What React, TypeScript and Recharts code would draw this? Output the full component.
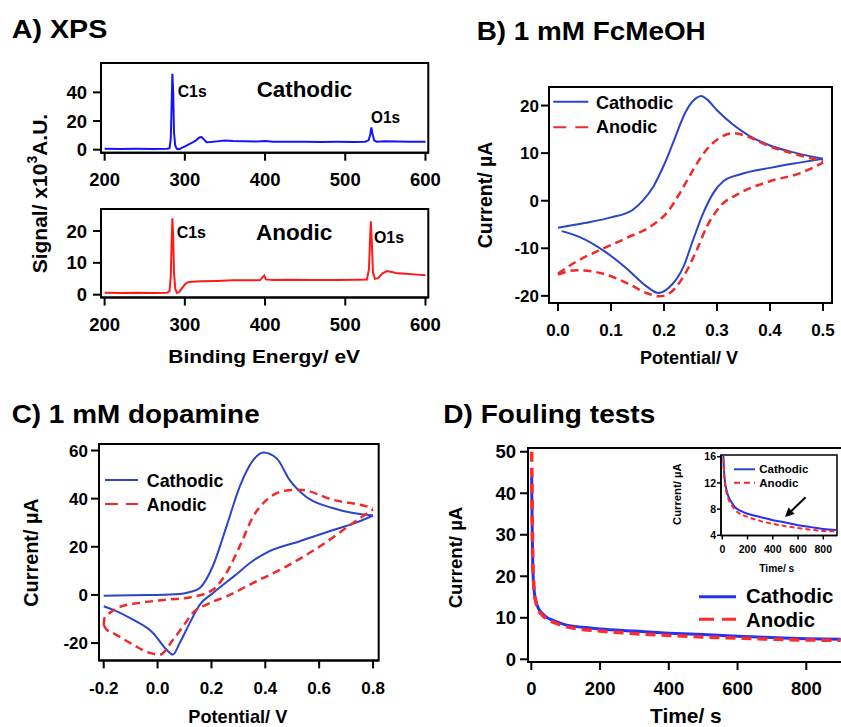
import React from 'react'
import { LineChart, Line, XAxis, YAxis, ReferenceArea, ReferenceLine } from 'recharts'

const FONT = '"Liberation Sans", Arial, Helvetica, sans-serif'
const PAD_T = 14
const PAD_R = 24

// A) XPS survey, binding energy (eV) vs signal (x10^3 A.U.)
const xpsCathodic = [
  [200, 0.6], [220, 0.5], [240, 0.6], [260, 0.5], [278, 0.6], [281, 1], [282.5, 8], [283.5, 30],
  [284.5, 53], [285.5, 40], [286.5, 12], [288, 3], [290, 0.6], [293, 0.4], [297, 1.5], [302, 2.8],
  [308, 4.5], [314, 6.5], [318, 8.5], [321, 8.8], [324, 7], [327, 5.2], [332, 5.3], [340, 5.8],
  [350, 6.4], [360, 6.0], [375, 5.8], [390, 5.7], [400, 6.0], [410, 5.6], [430, 5.5], [450, 5.6],
  [470, 5.4], [490, 5.5], [510, 5.4], [525, 5.6], [529, 6.5], [531, 10], [532.5, 15.5], [534, 11],
  [536, 6.5], [539, 5.6], [550, 5.9], [565, 5.7], [580, 5.6], [600, 5.5],
]
const xpsAnodic = [
  [200, 0.6], [220, 0.5], [240, 0.6], [260, 0.5], [278, 0.6], [281, 1.2], [282.5, 6], [283.5, 16],
  [284.5, 24], [285.5, 18], [286.5, 7], [288, 2], [290, 0.6], [293, 0.8], [297, 2.2], [301, 3.5],
  [305, 4], [320, 4.2], [340, 4.3], [360, 4.5], [380, 4.5], [394, 4.6], [397, 5.5], [399, 6],
  [401, 4.8], [410, 4.6], [430, 4.7], [460, 4.6], [490, 4.6], [515, 4.7], [527, 4.8], [529.5, 8],
  [531, 18], [532, 23], [533, 17], [534.5, 7], [537, 5], [541, 5.2], [546, 6.6], [552, 7.4],
  [558, 7.1], [565, 6.7], [575, 6.6], [590, 6.3], [600, 6.1],
]
const xpsTicks = [200, 300, 400, 500, 600]
const xpsTopTicks = [0, 20, 40]
const xpsBottomTicks = [0, 10, 20]

// B) 1 mM FcMeOH, potential (V) vs current (uA); each scan split in two branches
const fcCathodicUpper = [
  [0.0, -5.7], [0.05, -4.7], [0.1, -3.5], [0.14, -2.0], [0.16, 0.0], [0.18, 3.0], [0.2, 7.5],
  [0.22, 13.0], [0.24, 18.5], [0.26, 21.5], [0.27, 22.0], [0.28, 21.4], [0.3, 19.0], [0.33, 16.0],
  [0.36, 13.7], [0.4, 11.6], [0.45, 10.0], [0.5, 8.8],
]
const fcCathodicLower = [
  [0.007, -6.4], [0.04, -7.6], [0.09, -10.8], [0.13, -14.3], [0.167, -18.0], [0.19, -19.4],
  [0.21, -18.2], [0.237, -13.8], [0.255, -8.2], [0.274, -2.6], [0.293, 1.6], [0.312, 4.1],
  [0.343, 5.5], [0.4, 6.9], [0.45, 7.9], [0.5, 8.8],
]
const fcAnodicUpper = [
  [0.0, -15.3], [0.03, -13.1], [0.08, -10.3], [0.13, -7.8], [0.18, -5.0], [0.205, -2.6], [0.23, 1.6],
  [0.255, 6.5], [0.28, 10.7], [0.305, 13.2], [0.33, 14.2], [0.355, 13.6], [0.4, 11.4], [0.45, 9.7],
  [0.5, 8.3],
]
const fcAnodicLower = [
  [0.0, -15.5], [0.035, -14.6], [0.08, -15.2], [0.13, -17.3], [0.167, -19.4], [0.192, -20.1],
  [0.211, -19.4], [0.237, -15.9], [0.262, -10.3], [0.281, -5.4], [0.306, -1.2], [0.343, 1.6],
  [0.4, 4.1], [0.457, 5.8], [0.5, 8.0],
]
const fcXTicks = [0, 0.1, 0.2, 0.3, 0.4, 0.5]
const fcYTicks = [-20, -10, 0, 10, 20]

// C) 1 mM dopamine
const daCathodicUpper = [
  [-0.2, -0.3], [-0.1, -0.1], [0.0, 0.0], [0.083, 0.4], [0.12, 1.2], [0.157, 2.9], [0.205, 11.9],
  [0.256, 28.5], [0.305, 45], [0.355, 56], [0.393, 59.2], [0.442, 56.8], [0.49, 47.8], [0.55, 40.9],
  [0.65, 36.1], [0.726, 34], [0.8, 33],
]
const daCathodicLower = [
  [-0.2, -4.7], [-0.166, -6.1], [-0.091, -10.3], [-0.017, -15.8], [0.033, -22.7], [0.057, -24.8],
  [0.083, -19.8], [0.12, -11.5], [0.157, -4], [0.206, 0.8], [0.283, 7.7], [0.357, 14.4],
  [0.405, 17.6], [0.528, 22.3], [0.652, 27], [0.73, 29.7], [0.8, 33],
]
const daAnodicUpper = [
  [-0.2, -12.5], [-0.197, -9.5], [-0.178, -7.5], [-0.14, -5], [-0.066, -3.3], [0.033, -2],
  [0.13, -0.8], [0.206, 2.2], [0.256, 9.2], [0.305, 20.2], [0.355, 32.6], [0.405, 39.5],
  [0.479, 43.4], [0.528, 43.7], [0.652, 39.5], [0.776, 36.8], [0.8, 36],
]
const daAnodicLower = [
  [-0.2, -12.5], [-0.19, -14.3], [-0.166, -15.8], [-0.092, -20.6], [-0.042, -23.6], [0.008, -24.8],
  [0.058, -18.5], [0.095, -13], [0.132, -7.3], [0.182, -4], [0.256, -0.6], [0.355, 5],
  [0.479, 11.9], [0.603, 20.2], [0.726, 29.9], [0.8, 35.5],
]
const daXTicks = [-0.2, 0, 0.2, 0.4, 0.6, 0.8]
const daYTicks = [-20, 0, 20, 40, 60]

// D) fouling tests, time (s) vs current (uA)
const foulCathodic = [
  [1, 44], [2, 36], [3, 29], [4, 24], [6, 19], [9, 16], [14, 13.8], [20, 12.4], [30, 11.2],
  [45, 10.1], [65, 9.3], [100, 8.3], [150, 7.7], [200, 7.3], [300, 6.8], [400, 6.3], [500, 5.95],
  [600, 5.55], [700, 5.25], [800, 4.95], [900, 4.8],
]
const foulAnodic = [
  [1, 50], [2, 42], [3, 33], [4, 26], [6, 20], [9, 16], [14, 13.5], [20, 12.0], [30, 10.8],
  [45, 9.7], [65, 8.9], [100, 7.9], [150, 7.2], [200, 6.8], [300, 6.2], [400, 5.75], [500, 5.4],
  [600, 5.1], [700, 4.85], [800, 4.65], [900, 4.6],
]
const foulXTicks = [0, 200, 400, 600, 800]
const foulYTicks = [0, 10, 20, 30, 40, 50]
const insetYTicks = [4, 8, 12, 16]
const insetArrow = [[660, 9.8], [497, 6.8]]

const BLUE_A = '#1414ff'
const RED_A = '#ff1a1a'
const BLUE = '#2a45c9'
const RED = '#f02a2a'
const BLUE_D = '#2233f5'
const RED_D = '#ff2a2a'

const pts = (arr: number[][]) => arr.map(([x, y]) => ({ x, y }))

type PanelProps = {
  rect: [number, number, number, number]
  xDomain: [number, number]
  yDomain: [number, number]
  xTicks: number[]
  yTicks: number[]
  xFmt?: (v: number) => string
  fontSize: number
  tickSize?: number
  xMargin: number
  yMargin: number
  yw?: number
  xh?: number
  sw?: number
  children?: React.ReactNode
}

function Panel({
  rect, xDomain, yDomain, xTicks, yTicks, xFmt, fontSize, tickSize = 8,
  xMargin, yMargin, yw = 50, xh = 40, sw = 2, children,
}: PanelProps) {
  const [x0, y0, x1, y1] = rect
  const width = x1 - x0 + yw + PAD_R
  const height = y1 - y0 + PAD_T + xh
  const tick = { fill: '#000', fontSize, fontWeight: 700, fontFamily: FONT }
  const line = { stroke: '#000', strokeWidth: sw }
  return (
    <div style={{ position: 'absolute', left: x0 - yw, top: y0 - PAD_T }}>
      <LineChart width={width} height={height} margin={{ top: PAD_T, right: PAD_R, left: 0, bottom: 0 }}>
        <XAxis
          dataKey="x" type="number" domain={xDomain} allowDataOverflow ticks={xTicks}
          tickFormatter={xFmt} interval={0} height={xh} tickSize={tickSize} tickMargin={xMargin}
          axisLine={line} tickLine={line} tick={tick}
        />
        <YAxis
          type="number" domain={yDomain} allowDataOverflow ticks={yTicks} interval={0}
          width={yw} tickSize={tickSize} tickMargin={yMargin}
          axisLine={line} tickLine={line} tick={tick}
        />
        <ReferenceArea
          x1={xDomain[0]} x2={xDomain[1]} y1={yDomain[0]} y2={yDomain[1]}
          ifOverflow="visible" fill="none" fillOpacity={0} stroke="#000" strokeWidth={sw}
        />
        {children}
      </LineChart>
    </div>
  )
}

const curve = (arr: number[][], stroke: string, width: number, dash?: string, type: any = 'monotone') => (
  <Line
    data={pts(arr)} dataKey="y" type={type} dot={false} activeDot={false}
    stroke={stroke} strokeWidth={width} strokeDasharray={dash} isAnimationActive={false}
  />
)

const Arrow = (p: any) => {
  const { x1, y1, x2, y2 } = p
  const a = Math.atan2(y2 - y1, x2 - x1)
  const L = 9
  const W = 4.5
  const bx = x2 - L * Math.cos(a)
  const by = y2 - L * Math.sin(a)
  const nx = -Math.sin(a) * W
  const ny = Math.cos(a) * W
  return (
    <g>
      <line x1={x1} y1={y1} x2={bx} y2={by} stroke="#000" strokeWidth={2} />
      <polygon points={`${x2},${y2} ${bx + nx},${by + ny} ${bx - nx},${by - ny}`} fill="#000" />
    </g>
  )
}

type TxtProps = { x: number; y: number; s: number; len?: number; rot?: boolean; children: React.ReactNode }
const Txt = ({ x, y, s, len, rot, children }: TxtProps) => (
  <text
    x={x} y={y} fontSize={s} fontWeight={700} fontFamily={FONT} fill="#000"
    textLength={len} lengthAdjust={len ? 'spacingAndGlyphs' : undefined}
    transform={rot ? `rotate(-90 ${x} ${y})` : undefined}
  >
    {children}
  </text>
)

type LegendProps = { x0: number; x1: number; tx: number; rows: [number, number][]; s: number; w: number; dash: string; lens: number[] }
const LegendBox = ({ x0, x1, tx, rows, s, w, dash, lens }: LegendProps) => (
  <g>
    <line x1={x0} x2={x1} y1={rows[0][0]} y2={rows[0][0]} stroke={w > 2.5 ? BLUE_D : BLUE} strokeWidth={w} />
    <Txt x={tx} y={rows[0][1]} s={s} len={lens[0]}>Cathodic</Txt>
    <line x1={x0} x2={x1} y1={rows[1][0]} y2={rows[1][0]} stroke={w > 2.5 ? RED_D : RED} strokeWidth={w} strokeDasharray={dash} />
    <Txt x={tx} y={rows[1][1]} s={s} len={lens[1]}>Anodic</Txt>
  </g>
)

export default function App() {
  const f1 = (v: number) => v.toFixed(1)
  return (
    <div style={{ position: 'absolute', left: 0, top: 0, width: 841, height: 727, overflow: 'hidden', background: '#fff' }}>
      {/* A) XPS */}
      <Panel rect={[100.7, 63.3, 428, 153]} xDomain={[195.5, 603.5]} yDomain={[-2.1, 60.5]}
        xTicks={xpsTicks} yTicks={xpsTopTicks} fontSize={18.5} xMargin={12} yMargin={6}>
        {curve(xpsCathodic, BLUE_A, 2, undefined, 'linear')}
      </Panel>
      <Panel rect={[100.7, 209, 428, 297.5]} xDomain={[195.5, 603.5]} yDomain={[-0.88, 26.9]}
        xTicks={xpsTicks} yTicks={xpsBottomTicks} fontSize={18.5} xMargin={12} yMargin={6}>
        {curve(xpsAnodic, RED_A, 2, undefined, 'linear')}
      </Panel>

      {/* B) FcMeOH */}
      <Panel rect={[549.3, 87.3, 832.3, 303.3]} xDomain={[-0.017, 0.517]} yDomain={[-21.5, 23.9]}
        xTicks={fcXTicks} yTicks={fcYTicks} xFmt={f1} fontSize={17} xMargin={13} yMargin={2}>
        {curve(fcCathodicUpper, BLUE, 2)}
        {curve(fcCathodicLower, BLUE, 2)}
        {curve(fcAnodicUpper, RED, 2.5, '8 5')}
        {curve(fcAnodicLower, RED, 2.5, '8 5')}
      </Panel>

      {/* C) dopamine */}
      <Panel rect={[99.3, 444.3, 379, 660.7]} xDomain={[-0.2175, 0.821]} yDomain={[-27.2, 62.7]}
        xTicks={daXTicks} yTicks={daYTicks} xFmt={f1} fontSize={17} xMargin={14} yMargin={3}>
        {curve(daCathodicUpper, BLUE, 2)}
        {curve(daCathodicLower, BLUE, 2)}
        {curve(daAnodicUpper, RED, 2.5, '8 5')}
        {curve(daAnodicLower, RED, 2.5, '8 5')}
      </Panel>

      {/* D) fouling tests */}
      <Panel rect={[527.7, 448, 842, 662]} xDomain={[-9.6, 904.7]} yDomain={[-0.65, 50.9]}
        xTicks={foulXTicks} yTicks={foulYTicks} fontSize={18.5} xMargin={12} yMargin={4}>
        {curve(foulCathodic, BLUE_D, 3)}
        {curve(foulAnodic, RED_D, 3.5, '10 6')}
      </Panel>
      <Panel rect={[721, 455, 837, 535.5]} xDomain={[-10.3, 908.5]} yDomain={[3.97, 16.26]}
        xTicks={foulXTicks} yTicks={insetYTicks} fontSize={10.5} tickSize={4} xMargin={6} yMargin={1}
        yw={22} xh={22} sw={1.5}>
        {curve(foulCathodic, BLUE_D, 2)}
        {curve(foulAnodic, RED_D, 2, '5 3')}
        <ReferenceLine
          segment={[{ x: insetArrow[0][0], y: insetArrow[0][1] }, { x: insetArrow[1][0], y: insetArrow[1][1] }]}
          shape={Arrow} stroke="#000"
        />
      </Panel>

      {/* titles, axis titles, annotations, legends */}
      <svg width={841} height={727} style={{ position: 'absolute', left: 0, top: 0, pointerEvents: 'none' }}>
        <Txt x={11.7} y={38.3} s={26} len={95.6}>A) XPS</Txt>
        <Txt x={476.7} y={40} s={26} len={229}>B) 1 mM FcMeOH</Txt>
        <Txt x={11.7} y={423.3} s={26} len={248}>C) 1 mM dopamine</Txt>
        <Txt x={443.3} y={423.3} s={26} len={212}>D) Fouling tests</Txt>

        <Txt x={177.7} y={96.7} s={16} len={29}>C1s</Txt>
        <Txt x={256.7} y={97.3} s={22} len={95.6}>Cathodic</Txt>
        <Txt x={371} y={123.3} s={16} len={29}>O1s</Txt>
        <Txt x={176.7} y={238.3} s={16} len={29.3}>C1s</Txt>
        <Txt x={256} y={240} s={22} len={76.3}>Anodic</Txt>
        <Txt x={374} y={242.7} s={16} len={30}>O1s</Txt>

        <Txt x={168.3} y={363} s={19} len={191.7}>Binding Energy/ eV</Txt>
        <text x={46.7} y={273.3} fontSize={21} fontWeight={700} fontFamily={FONT}
          transform="rotate(-90 46.7 273.3)">
          Signal/ x10<tspan fontSize={14} dy={-10}>3</tspan><tspan dy={10}>A.U.</tspan>
        </text>

        <Txt x={491.7} y={248.3} s={19.5} len={106.7} rot>Current/ µA</Txt>
        <Txt x={640} y={364} s={18.5} len={98}>Potential/ V</Txt>
        <Txt x={38.3} y={606.7} s={19.5} len={108.4} rot>Current/ µA</Txt>
        <Txt x={188.3} y={722.7} s={19} len={99}>Potential/ V</Txt>
        <Txt x={461.7} y={608.3} s={19} len={101.6} rot>Current/ µA</Txt>
        <Txt x={650} y={723.3} s={20} len={71.7}>Time/ s</Txt>
        <Txt x={680.7} y={525} s={11} len={61.7} rot>Current/ µA</Txt>
        <Txt x={759.3} y={571.7} s={11} len={35}>Time/ s</Txt>

        <LegendBox x0={553.3} x1={588.3} tx={596} rows={[[101.7, 109.3], [127.3, 133]]} s={18.5} w={2} dash="13 9" lens={[77.3, 61.3]} />
        <LegendBox x0={105} x1={138} tx={146.7} rows={[[480, 486.7], [504, 510.7]]} s={18.5} w={2} dash="13 8" lens={[76.7, 60]} />
        <LegendBox x0={699} x1={736} tx={746} rows={[[596.7, 603.3], [619.3, 626.7]]} s={20.5} w={3} dash="15 8" lens={[87.3, 69]} />
        <LegendBox x0={734} x1={755} tx={759.3} rows={[[469.3, 473.3], [482.7, 486.7]]} s={11.5} w={2} dash="6 4" lens={[49, 39]} />
      </svg>
    </div>
  )
}
